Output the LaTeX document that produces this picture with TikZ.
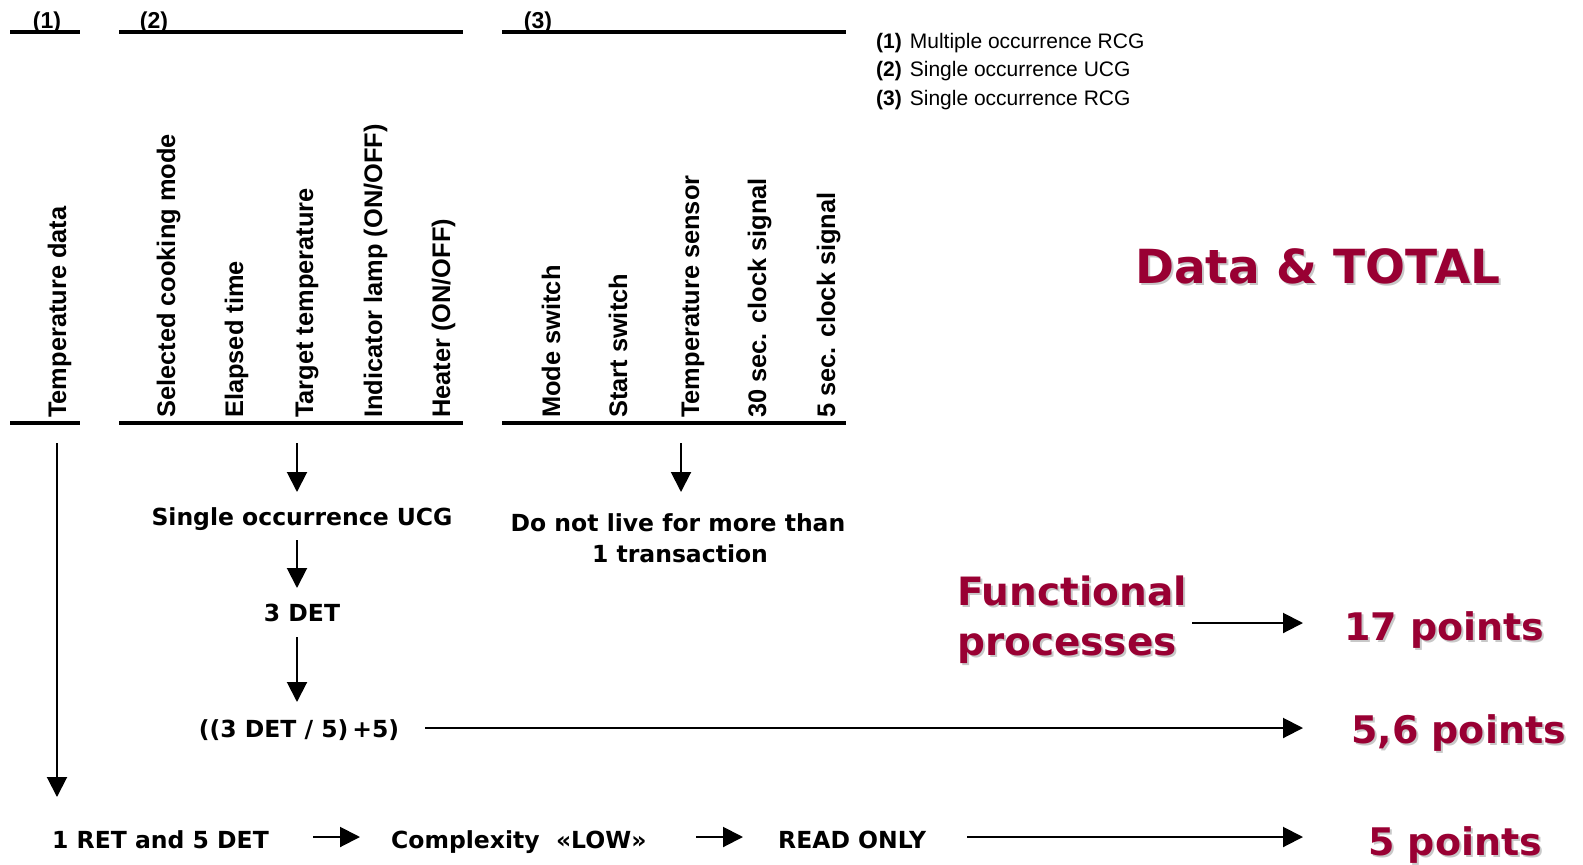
\documentclass[tikz,border=0pt]{standalone}
\usepackage{fontspec}
\setmainfont{Liberation Sans}
\newfontfamily\verd{DejaVu Sans}
\usetikzlibrary{arrows.meta}
\definecolor{wine}{RGB}{153,0,51}
\definecolor{shade}{RGB}{200,200,200}
\begin{document}
\begin{tikzpicture}[x=1bp,y=-1bp,
  rule/.style={line width=4bp},
  arr/.style={line width=2bp,-{Triangle[length=20bp,width=20bp]}},
  head/.style={inner sep=0,anchor=base,font=\bfseries\fontsize{23bp}{27bp}\selectfont},
  legend/.style={inner sep=0,anchor=base west,font=\fontsize{21bp}{25bp}\selectfont},
  vlabel/.style={inner sep=0,rotate=90,anchor=base west,font=\bfseries\fontsize{25.4bp}{30bp}\selectfont},
  txt/.style={inner sep=0,anchor=base,font=\verd\bfseries\fontsize{23.5bp}{28bp}\selectfont},
  txtw/.style={txt,anchor=base west},
  bigred/.style={inner sep=0,anchor=base west,text=wine,font=\verd\bfseries\fontsize{#1}{#1}\selectfont},
  drop/.style={text=shade,xshift=2bp,yshift=-2bp}]
\fill[white] (0,0) rectangle (1583,864);
\useasboundingbox (0,0) rectangle (1583,864);

% group rules, top and bottom
\draw[rule] (10,32) -- (80,32);
\draw[rule] (119,32) -- (463,32);
\draw[rule] (502,32) -- (846,32);
\draw[rule] (10,423) -- (80,423);
\draw[rule] (119,423) -- (463,423);
\draw[rule] (502,423) -- (846,423);

% group headers
\node[head] (h1) at (47,28) {(1)};
\node[head] (h2) at (154,28) {(2)};
\node[head] (h3) at (538,28) {(3)};

% legend
\node[legend] (l1) at (876,48) {\textbf{(1)}\hspace{8bp}Multiple occurrence RCG};
\node[legend] (l2) at (876,76.5) {\textbf{(2)}\hspace{8bp}Single occurrence UCG};
\node[legend] (l3) at (876,105) {\textbf{(3)}\hspace{8bp}Single occurrence RCG};

% data items
\node[vlabel] (v1) at (66,418) {Temperature data};
\node[vlabel] (v2) at (175,418) {Selected cooking mode};
\node[vlabel] (v3) at (243,418) {Elapsed time};
\node[vlabel] (v4) at (313,418) {Target temperature};
\node[vlabel] (v5) at (382,418) {Indicator lamp (ON/OFF)};
\node[vlabel] (v6) at (450,418) {Heater (ON/OFF)};
\node[vlabel] (v7) at (560,418) {Mode switch};
\node[vlabel] (v8) at (627,418) {Start switch};
\node[vlabel] (v9) at (699,418) {Temperature sensor};
\node[vlabel] (v10) at (766,418) {30 sec. clock signal};
\node[vlabel] (v11) at (835,418) {5 sec. clock signal};

% derivation texts
\node[txt] (ucg) at (302,525) {Single occurrence UCG};
\node[txt] (det) at (302,621) {3 DET};
\node[txt] (calc) at (299,737) {((3 DET / 5)\,+5)};
\node[txt] (live1) at (678,531) {Do not live for more than};
\node[txt] (live2) at (680,562) {1 transaction};
\node[txtw] (ret) at (52,848) {1 RET and 5 DET};
\node[txtw] (cplx) at (391,848) {Complexity\ \ «LOW»};
\node[txtw] (ro) at (778,848) {READ ONLY};

% results
\node[bigred=47bp,drop] (dataS) at (1135,283) {Data \& TOTAL};
\node[bigred=47bp] (data) at (1135,283) {Data \& TOTAL};
\node[bigred=39bp,drop] (fp1S) at (957,605) {Functional};
\node[bigred=39bp] (fp1) at (957,605) {Functional};
\node[bigred=39bp,drop] (fp2S) at (957,655) {processes};
\node[bigred=39bp] (fp2) at (957,655) {processes};
\node[bigred=38bp,drop] (p17S) at (1344,640) {17 points};
\node[bigred=38bp] (p17) at (1344,640) {17 points};
\node[bigred=38bp,drop] (p56S) at (1351,743) {5,6 points};
\node[bigred=38bp] (p56) at (1351,743) {5,6 points};
\node[bigred=38bp,drop] (p5S) at (1368,855) {5 points};
\node[bigred=38bp] (p5) at (1368,855) {5 points};

% connector ends
\coordinate (t0) at (57,443);   \coordinate (t0e) at (57,797);
\coordinate (u0) at (297,443);  \coordinate (u0e) at (297,492);
\coordinate (u1) at (297,540);  \coordinate (u1e) at (297,588);
\coordinate (u2) at (297,637);  \coordinate (u2e) at (297,702);
\coordinate (r0) at (681,443);  \coordinate (r0e) at (681,492);

% connectors
\draw[arr] (t0) -- (t0e);
\draw[arr] (u0) -- (u0e);
\draw[arr] (u1) -- (u1e);
\draw[arr] (u2) -- (u2e);
\draw[arr] (r0) -- (r0e);
\draw[arr] (1192,623) coordinate (fpo) -- (1303,623) coordinate (p17i);
\draw[arr] (425,728) coordinate (co) -- (1303,728) coordinate (p56i);
\draw[arr] (313,837) coordinate (reto) -- (360,837) coordinate (cplxi);
\draw[arr] (696,837) coordinate (cplxo) -- (743,837) coordinate (roi);
\draw[arr] (967,837) coordinate (roo) -- (1303,837) coordinate (p5i);
\end{tikzpicture}
\end{document}
